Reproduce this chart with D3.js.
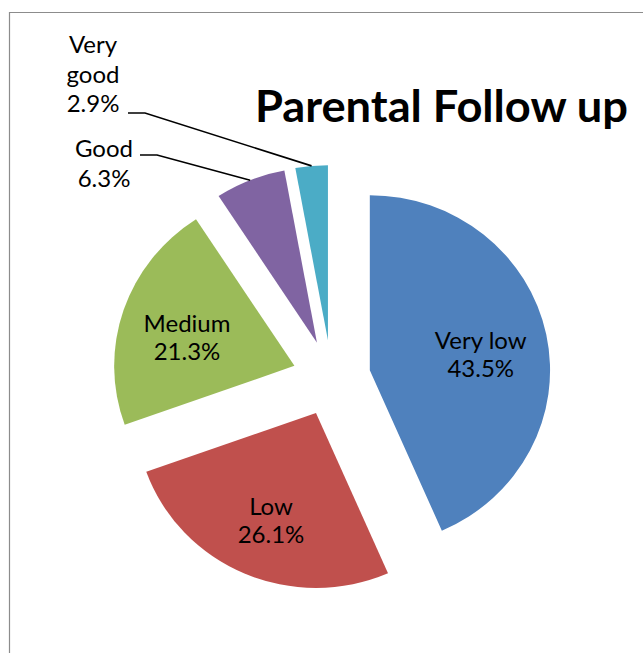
<!DOCTYPE html>
<html>
<head>
<meta charset="utf-8">
<script src="https://cdn.jsdelivr.net/npm/d3@7/dist/d3.min.js"></script>
<style>
  html, body { margin: 0; padding: 0; background: #fff; }
  svg { display: block; }
</style>
</head>
<body>
<svg id="chart" width="643" height="653"></svg>
<script>
// ---- data ----
const categories = ["Very low", "Low", "Medium", "Good", "Very good"];
const values = [43.5, 26.1, 21.3, 6.3, 2.9];
const valueLabels = ["43.5%", "26.1%", "21.3%", "6.3%", "2.9%"];
const colors = ["#4F81BD", "#C0504D", "#9BBB59", "#8064A2", "#4BACC6"];
const titleText = "Parental Follow up";

// ---- layout ----
const W = 643, H = 653;
const cx = 331.5, cy = 378, R = 175, sx = 1.03, explode = 38;
const font = "Lato, 'Open Sans', sans-serif";

const svg = d3.select("#chart");

// frame
svg.append("path")
  .attr("d", `M9.5,${H} L9.5,12.5 L${W},12.5`)
  .attr("fill", "none").attr("stroke", "#8c8c8c").attr("stroke-width", 1.2);

const pie = d3.pie().sort(null).value(d => d)(values);
const arc = d3.arc().innerRadius(0).outerRadius(R);

// map a local (unscaled, relative to center) point to screen
const toScreen = (x, y) => [cx + x * sx, cy + y];

const g = svg.append("g").attr("transform", `translate(${cx},${cy}) scale(${sx},1)`);

pie.forEach((p, i) => {
  const mid = (p.startAngle + p.endAngle) / 2;
  const ox = Math.sin(mid) * explode, oy = -Math.cos(mid) * explode;
  p.ox = ox; p.oy = oy; p.mid = mid;
  g.append("path")
    .attr("transform", `translate(${ox},${oy})`)
    .attr("d", arc(p))
    .attr("fill", colors[i]);
});

// inside labels
const insideIdx = [0, 1, 2];
insideIdx.forEach(i => {
  const p = pie[i];
  const t = 110;
  const [x, y] = toScreen(p.ox + Math.sin(p.mid) * t, p.oy - Math.cos(p.mid) * t);
  const txt = svg.append("text")
    .attr("x", x).attr("y", y + 15)
    .attr("text-anchor", "middle")
    .attr("font-family", font).attr("font-size", 24).attr("fill", "#000");
  txt.append("tspan").attr("x", x).attr("dy", -14).text(categories[i]);
  txt.append("tspan").attr("x", x).attr("dy", 28).text(valueLabels[i]);
});

// outside labels with leader lines
const outside = [
  { i: 4, lines: ["Very", "good", "2.9%"], x: 93, y0: 53, lead: [[128, 113], [145, 113]] },
  { i: 3, lines: ["Good", "6.3%"], x: 104, y0: 157, lead: [[140, 155], [157, 155]] }
];
outside.forEach(o => {
  const p = pie[o.i];
  const end = toScreen(p.ox + Math.sin(p.mid) * R, p.oy - Math.cos(p.mid) * R);
  const pts = o.lead.concat([end]);
  svg.append("path")
    .attr("d", d3.line()(pts))
    .attr("fill", "none").attr("stroke", "#000").attr("stroke-width", 1.6);
  const txt = svg.append("text")
    .attr("text-anchor", "middle")
    .attr("font-family", font).attr("font-size", 24).attr("fill", "#000");
  o.lines.forEach((l, k) => {
    txt.append("tspan").attr("x", o.x).attr("y", o.y0 + k * 29.5).text(l);
  });
});

// title
svg.append("text")
  .attr("x", 255).attr("y", 122)
  .attr("font-family", font).attr("font-weight", "bold").attr("font-size", 44)
  .attr("textLength", 373).attr("lengthAdjust", "spacingAndGlyphs")
  .attr("fill", "#000")
  .text(titleText);
</script>
</body>
</html>
